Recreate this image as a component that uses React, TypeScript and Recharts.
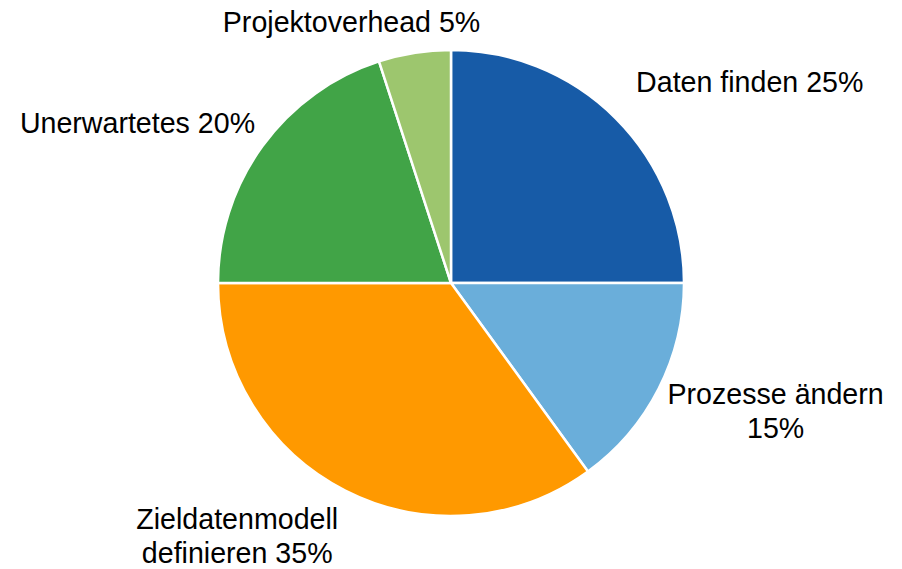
import { PieChart, Pie, Cell } from 'recharts';

const names = [
  'Daten finden',
  'Prozesse ändern',
  'Zieldatenmodell definieren',
  'Unerwartetes',
  'Projektoverhead',
];
const values = [25, 15, 35, 20, 5];
// Beschriftungen wie im Original umbrochen
const labelLines = [
  ['Daten finden 25%'],
  ['Prozesse ändern', '15%'],
  ['Zieldatenmodell', 'definieren 35%'],
  ['Unerwartetes 20%'],
  ['Projektoverhead 5%'],
];
const colors = ['#175BA7', '#6AAEDA', '#FF9900', '#41A447', '#9DC66E'];

const data = names.map((name, i) => ({ name, value: values[i] }));

// Verschiebung der Beschriftung relativ zum Randpunkt (Mitte, erste Grundlinie)
const nudges = [
  [134, -26],
  [117, 15],
  [-108, 38],
  [-125, -13],
  [-63, -21],
];

const RAD = Math.PI / 180;

function renderLabel(props: any) {
  const { cx, cy, midAngle, outerRadius, index } = props;
  const px = cx + outerRadius * Math.cos(-midAngle * RAD);
  const py = cy + outerRadius * Math.sin(-midAngle * RAD);
  const [dx, dy] = nudges[index];
  const lines = labelLines[index];
  return (
    <text
      x={px + dx}
      y={py + dy}
      textAnchor="middle"
      fill="#000"
      fontSize={28.6}
      fontFamily="'Liberation Sans', Arial, sans-serif"
    >
      {lines.map((l, i) => (
        <tspan key={i} x={px + dx} dy={i === 0 ? 0 : 34}>
          {l}
        </tspan>
      ))}
    </text>
  );
}

export default function App() {
  return (
    <div style={{ position: 'absolute', left: 0, top: 0, background: '#fff' }}>
      <PieChart width={902} height={569} margin={{ top: 0, right: 0, bottom: 0, left: 0 }}>
        <Pie
          data={data}
          dataKey="value"
          nameKey="name"
          cx={451}
          cy={283}
          outerRadius={233}
          startAngle={90}
          endAngle={-270}
          stroke="#fff"
          strokeWidth={2.5}
          label={renderLabel}
          labelLine={false}
          isAnimationActive={false}
        >
          {data.map((d, i) => (
            <Cell key={d.name} fill={colors[i]} />
          ))}
        </Pie>
      </PieChart>
    </div>
  );
}
